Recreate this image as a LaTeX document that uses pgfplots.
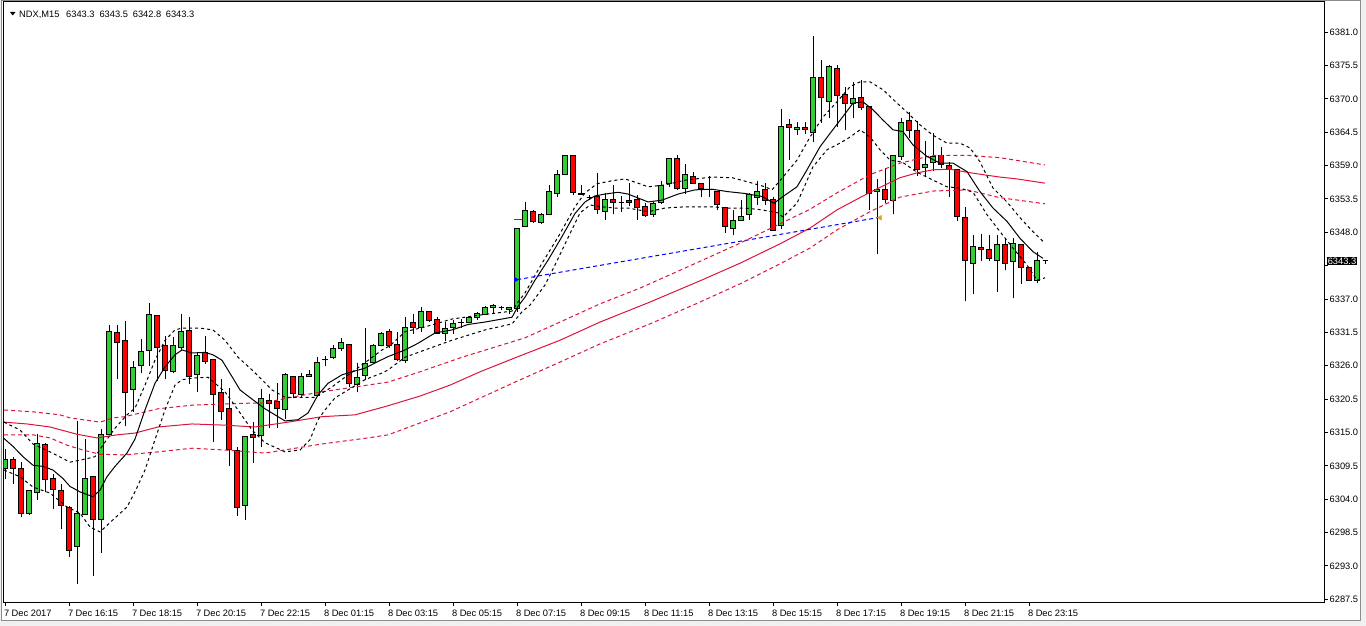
\documentclass[border=0pt]{standalone}
\usepackage{pgfplots}
\pgfplotsset{compat=1.18}
\usepackage{pgfplotstable}
\usepackage{fontspec}
\setmainfont{Liberation Sans}
\definecolor{mtgreen}{RGB}{50,205,50}
\definecolor{mtred}{RGB}{255,0,0}
\definecolor{macrim}{RGB}{220,20,60}
\definecolor{mtgold}{RGB}{218,165,32}
\newcommand{\tf}{\fontsize{9.3}{11}\selectfont}

% bar index, open, high, low, close, up(1)/down(0)
\pgfplotstableread{
i O H L C u
0 6309.0 6312.2 6307.3 6310.6 1
1 6310.6 6311.0 6306.5 6309.1 0
2 6309.1 6310.2 6301.0 6301.7 0
3 6301.7 6305.5 6301.4 6305.5 1
4 6305.1 6314.7 6303.9 6313.2 1
5 6313.0 6313.3 6305.1 6307.3 0
6 6307.4 6308.1 6302.4 6305.6 0
7 6305.5 6306.5 6299.0 6303.0 0
8 6302.7 6302.8 6294.5 6295.6 0
9 6296.2 6316.9 6290.0 6301.7 1
10 6301.5 6314.0 6301.5 6307.4 1
11 6307.8 6307.8 6291.4 6300.6 0
12 6300.7 6315.5 6295.1 6314.7 1
13 6314.6 6332.7 6314.6 6331.7 1
14 6331.4 6332.7 6323.8 6329.9 0
15 6330.1 6333.4 6316.0 6321.6 0
16 6322.1 6326.8 6318.4 6325.7 1
17 6326.1 6330.4 6324.8 6328.3 1
18 6328.5 6336.3 6326.0 6334.4 1
19 6334.2 6334.4 6323.5 6329.0 0
20 6329.4 6330.9 6323.8 6325.2 0
21 6325.1 6330.8 6324.8 6329.4 1
22 6329.0 6334.6 6328.6 6331.7 1
23 6331.8 6334.1 6323.0 6324.3 0
24 6324.6 6328.3 6321.6 6327.7 1
25 6328.2 6330.9 6326.3 6326.7 0
26 6327.1 6327.1 6313.5 6321.3 0
27 6321.6 6323.8 6317.1 6318.5 0
28 6318.9 6322.3 6309.5 6312.2 0
29 6312.1 6312.6 6301.3 6302.7 0
30 6302.9 6314.3 6300.5 6314.3 1
31 6314.6 6316.7 6310.0 6314.2 0
32 6314.5 6322.2 6312.6 6320.6 1
33 6320.2 6321.3 6315.7 6319.8 0
34 6320.1 6323.1 6315.7 6319.0 0
35 6318.8 6324.8 6317.2 6324.6 1
36 6324.2 6324.2 6320.6 6321.5 0
37 6321.3 6324.8 6320.6 6324.3 1
38 6324.3 6325.3 6324.2 6324.6 1
39 6321.1 6327.4 6320.9 6326.6 1
40 6327.0 6327.6 6326.0 6327.1 1
41 6327.4 6329.4 6327.1 6328.9 1
42 6328.8 6330.5 6328.5 6329.9 1
43 6329.5 6329.5 6322.5 6323.1 0
44 6322.9 6326.4 6321.7 6324.1 1
45 6324.4 6332.3 6323.6 6326.4 1
46 6326.6 6329.6 6326.4 6329.4 1
47 6329.4 6331.5 6329.2 6331.3 1
48 6331.7 6332.0 6328.9 6329.4 0
49 6329.5 6331.6 6326.7 6327.1 0
50 6326.8 6334.1 6326.4 6332.3 1
51 6333.2 6334.6 6331.3 6332.3 0
52 6332.3 6335.6 6331.6 6335.0 1
53 6335.0 6335.1 6333.2 6333.5 0
54 6333.7 6334.1 6331.2 6331.3 0
55 6331.3 6333.2 6330.0 6332.2 1
56 6332.3 6333.5 6331.3 6333.0 1
57 6333.1 6333.7 6332.3 6333.2 1
58 6333.2 6334.2 6333.1 6334.0 1
59 6334.0 6334.9 6333.5 6334.6 1
60 6334.5 6335.8 6334.4 6335.6 1
61 6335.6 6336.1 6334.6 6336.0 1
62 6335.6 6335.9 6335.2 6335.6 1
63 6335.2 6335.7 6334.5 6335.6 1
64 6335.5 6348.7 6334.9 6348.7 1
65 6349.0 6353.0 6348.9 6351.6 1
66 6351.5 6351.7 6349.6 6349.7 0
67 6349.6 6351.1 6349.4 6351.0 1
68 6351.0 6355.8 6350.9 6354.8 1
69 6354.4 6358.2 6353.9 6357.6 1
70 6357.6 6360.8 6357.5 6360.6 1
71 6360.6 6360.7 6354.2 6354.6 0
72 6354.4 6355.8 6354.1 6354.2 0
73 6353.8 6354.2 6353.4 6353.8 1
74 6353.9 6357.7 6351.0 6351.7 0
75 6351.5 6354.4 6350.1 6353.4 1
76 6353.4 6355.8 6351.0 6352.9 0
77 6352.9 6354.0 6351.4 6352.9 1
78 6353.3 6356.1 6352.3 6352.9 0
79 6353.4 6354.2 6350.1 6352.1 0
80 6352.2 6352.9 6350.5 6350.7 0
81 6351.0 6353.0 6350.5 6352.8 1
82 6352.9 6356.5 6352.7 6355.7 1
83 6356.0 6360.2 6355.5 6360.1 1
84 6360.1 6360.7 6355.0 6355.3 0
85 6355.3 6359.2 6354.3 6357.6 1
86 6357.2 6358.0 6356.0 6356.1 0
87 6356.1 6356.1 6353.8 6355.3 0
88 6355.1 6357.2 6353.9 6355.1 1
89 6354.8 6354.8 6351.6 6352.5 0
90 6352.1 6352.1 6347.9 6349.0 0
91 6348.6 6351.6 6347.5 6350.0 1
92 6349.9 6353.3 6349.9 6350.6 1
93 6351.0 6354.4 6350.0 6354.3 1
94 6353.8 6356.5 6352.5 6354.8 1
95 6355.1 6356.2 6352.5 6353.3 0
96 6353.4 6353.9 6348.2 6348.3 0
97 6349.2 6368.3 6348.6 6365.5 1
98 6365.8 6366.6 6360.0 6365.2 0
99 6365.0 6366.2 6364.0 6365.3 1
100 6365.3 6366.2 6364.2 6365.0 0
101 6364.4 6380.4 6362.9 6373.6 1
102 6373.6 6376.4 6366.1 6370.2 0
103 6369.6 6375.6 6366.8 6375.4 1
104 6375.0 6375.6 6365.4 6370.6 0
105 6370.8 6372.0 6364.8 6369.3 0
106 6369.3 6372.8 6366.9 6370.1 1
107 6370.3 6373.1 6368.2 6368.6 0
108 6368.8 6368.8 6351.6 6354.4 0
109 6354.8 6356.8 6344.5 6355.1 1
110 6355.1 6358.6 6352.8 6353.4 0
111 6353.3 6360.7 6351.0 6360.6 1
112 6360.5 6366.8 6359.9 6366.1 1
113 6366.4 6367.9 6363.5 6364.8 0
114 6364.8 6366.4 6357.2 6358.3 0
115 6358.7 6363.1 6357.1 6359.2 1
116 6359.5 6364.4 6358.1 6360.5 1
117 6360.6 6362.1 6358.6 6359.2 0
118 6359.0 6359.6 6353.9 6358.3 0
119 6358.3 6358.3 6349.9 6350.6 0
120 6350.5 6352.2 6336.6 6343.3 0
121 6342.9 6347.6 6337.9 6345.6 1
122 6345.5 6347.7 6343.3 6345.2 0
123 6345.2 6347.6 6343.2 6343.7 0
124 6343.4 6347.6 6338.1 6346.0 1
125 6346.0 6347.0 6341.7 6342.9 0
126 6343.2 6347.0 6337.1 6346.2 1
127 6346.0 6346.0 6339.4 6342.2 0
128 6342.2 6342.2 6339.9 6340.0 0
129 6340.0 6344.8 6339.6 6343.3 1
130 6343.3 6343.5 6342.8 6343.3 1
}\ohlc

\begin{document}
\begin{tikzpicture}[x=1pt,y=1pt]
\useasboundingbox (0,0) rectangle (1366,626);
\fill[black!6] (0,0) rectangle (1366,626);
\fill[white] (1,5) rectangle (1360,625);
\draw[black!45, line width=1pt] (1,5) rectangle (1360,625);

\begin{axis}[
  at={(3.5pt,23pt)}, anchor=south west,
  scale only axis, width=1321.5pt, height=601pt,
  xmin=-0.225, xmax=164.96, ymin=6286.88, ymax=6385.97,
  axis line style={black, line width=1pt},
  tick style={black, line width=1pt},
  tick align=outside, major tick length=3pt,
  xtick pos=bottom, ytick pos=right, yticklabel pos=right,
  xtick={0,8,...,128},
  xticklabels={7 Dec 2017, 7 Dec 16:15, 7 Dec 18:15, 7 Dec 20:15, 7 Dec 22:15, 8 Dec 01:15, 8 Dec 03:15, 8 Dec 05:15, 8 Dec 07:15, 8 Dec 09:15, 8 Dec 11:15, 8 Dec 13:15, 8 Dec 15:15, 8 Dec 17:15, 8 Dec 19:15, 8 Dec 21:15, 8 Dec 23:15},
  ytick={6287.5,6293,6298.5,6304,6309.5,6315,6320.5,6326,6331.5,6337,6348,6353.5,6359,6364.5,6370,6375.5,6381},
  extra y ticks={6342.5}, extra y tick labels={},
  extra y tick style={tick style={black, line width=1pt}},
  scaled y ticks=false,
  xticklabel style={anchor=north west, inner sep=0pt, font=\tf, xshift=-1.5pt, yshift=-4pt},
  yticklabel style={anchor=west, inner sep=0pt, font=\tf, xshift=1.5pt, /pgf/number format/.cd, fixed, fixed zerofill, precision=1, 1000 sep={}, assume math mode=true},
]

% candles
\pgfplotstablegetrowsof{\ohlc}
\pgfmathtruncatemacro{\lastrow}{\pgfplotsretval-1}
\foreach \r in {0,...,\lastrow}{%
  \pgfplotstablegetelem{\r}{i}\of\ohlc \let\vI\pgfplotsretval
  \pgfplotstablegetelem{\r}{O}\of\ohlc \let\vO\pgfplotsretval
  \pgfplotstablegetelem{\r}{H}\of\ohlc \let\vH\pgfplotsretval
  \pgfplotstablegetelem{\r}{L}\of\ohlc \let\vL\pgfplotsretval
  \pgfplotstablegetelem{\r}{C}\of\ohlc \let\vC\pgfplotsretval
  \pgfplotstablegetelem{\r}{u}\of\ohlc \let\vU\pgfplotsretval
  \pgfmathsetmacro{\xa}{\vI-0.3125}%
  \pgfmathsetmacro{\xb}{\vI+0.3125}%
  \ifnum\vU=1\relax \def\bodycol{mtgreen}\else\def\bodycol{mtred}\fi
  \edef\doit{%
    \noexpand\addplot[black, line width=1pt, forget plot] coordinates {(\vI,\vL) (\vI,\vH)};
    \noexpand\addplot[draw=black, fill=\bodycol, line width=1pt, forget plot] coordinates {(\xa,\vO) (\xb,\vO) (\xb,\vC) (\xa,\vC)} -- cycle;
  }\doit
}

% red MA (long) with dashed channel
\addplot[macrim, line width=1pt] coordinates {(-0.16,6316.7) (2.71,6316.4) (5.59,6315.9) (8.96,6314.7) (11.46,6314.1) (13.96,6314.6) (16.21,6314.9) (19.09,6315.9) (23.34,6316.4) (27.46,6316.2) (31.21,6315.9) (35.34,6316.7) (39.59,6317.6) (43.71,6317.9) (47.84,6319.4) (51.84,6321.0) (55.59,6322.8) (59.34,6325.0) (63.71,6327.3) (69.34,6330.2) (74.34,6333.2) (80.59,6336.5) (86.84,6340.0) (91.84,6342.9) (96.84,6346.1) (100.59,6348.7) (103.96,6351.7) (108.09,6354.6) (111.84,6357.0) (113.96,6357.8) (115.96,6358.3) (118.09,6358.4) (120.21,6357.9) (122.21,6357.5) (124.34,6357.1) (126.46,6356.8) (129.96,6356.1)};
\addplot[macrim, line width=1pt, dash pattern=on 4pt off 3pt] coordinates {(-0.16,6318.7) (3.46,6318.4) (6.84,6317.9) (8.09,6317.4) (11.84,6316.7) (13.46,6317.4) (14.96,6317.6) (19.09,6318.9) (23.34,6319.5) (27.46,6319.7) (32.46,6319.9) (35.34,6320.7) (39.59,6321.7) (43.71,6322.5) (47.84,6323.3) (51.84,6325.0) (57.09,6327.4) (64.96,6330.6) (69.34,6333.2) (74.34,6336.2) (79.34,6338.8) (84.96,6342.1) (91.84,6346.2) (96.84,6349.4) (100.59,6351.8) (103.96,6354.5) (108.09,6357.5) (111.84,6359.4) (115.96,6360.7) (120.21,6360.7) (124.34,6360.3) (129.96,6359.1)};
\addplot[macrim, line width=1pt, dash pattern=on 4pt off 3pt] coordinates {(-0.16,6314.6) (3.46,6314.6) (5.59,6314.1) (7.71,6312.9) (9.71,6312.1) (11.84,6311.4) (14.96,6311.3) (19.09,6311.8) (23.34,6312.4) (27.46,6312.1) (32.46,6311.6) (39.59,6313.1) (45.34,6314.1) (47.84,6314.6) (55.59,6318.4) (63.71,6323.3) (69.34,6326.6) (74.34,6329.6) (80.59,6332.9) (86.84,6336.5) (91.84,6339.5) (96.84,6342.8) (100.59,6345.4) (103.96,6348.4) (108.09,6351.4) (111.84,6353.8) (115.96,6354.8) (120.21,6355.0) (124.34,6353.7) (129.96,6352.7)};

% black MA (short) with dashed channel
\addplot[black, line width=1pt] coordinates {(-0.16,6314.0) (0.96,6312.7) (2.21,6311.0) (3.46,6309.6) (4.71,6309.4) (5.96,6308.8) (7.21,6307.4) (8.09,6306.1) (9.34,6305.2) (10.96,6304.4) (11.84,6305.5) (12.71,6307.7) (13.71,6309.4) (15.21,6311.6) (16.21,6313.9) (17.46,6318.7) (18.71,6323.1) (19.96,6325.8) (21.21,6327.8) (22.09,6328.6) (23.34,6328.1) (24.96,6328.2) (25.96,6327.8) (27.09,6326.9) (28.34,6324.2) (29.34,6322.0) (30.84,6320.5) (32.46,6318.9) (34.96,6316.9) (36.59,6317.1) (37.84,6318.2) (39.09,6321.2) (40.34,6323.1) (42.09,6324.5) (43.34,6325.0) (44.96,6325.6) (46.59,6326.7) (47.84,6327.5) (49.96,6328.6) (51.59,6329.7) (53.71,6331.4) (55.84,6331.9) (57.84,6332.8) (59.96,6333.2) (62.09,6333.7) (63.34,6334.0) (64.09,6335.8) (64.96,6337.3) (66.21,6340.1) (67.84,6343.4) (69.59,6347.3) (71.21,6351.1) (72.46,6353.0) (73.71,6354.0) (74.96,6354.3) (76.59,6354.6) (77.84,6354.3) (79.59,6353.4) (80.34,6353.0) (82.09,6353.3) (84.09,6354.3) (86.21,6355.0) (88.34,6355.1) (90.34,6354.7) (92.46,6354.4) (94.59,6353.9) (96.09,6352.8) (97.21,6353.9) (98.96,6355.5) (100.21,6358.3) (101.84,6362.1) (103.09,6364.3) (104.71,6367.1) (105.96,6369.3) (107.21,6369.5) (108.46,6368.2) (109.71,6366.5) (110.96,6364.9) (112.21,6364.6) (113.46,6362.4) (115.21,6360.5) (116.84,6359.4) (118.46,6359.4) (120.21,6358.0) (121.84,6354.7) (123.46,6352.0) (125.21,6349.8) (126.84,6347.0) (128.46,6344.8) (129.71,6343.7)};
\addplot[black, line width=1pt, dash pattern=on 3pt off 3pt] coordinates {(-0.16,6316.7) (1.84,6315.4) (3.46,6313.1) (5.59,6311.8) (8.09,6310.1) (9.96,6310.6) (11.21,6311.0) (12.46,6313.4) (13.71,6315.7) (15.21,6317.9) (16.21,6319.0) (17.46,6322.8) (18.71,6326.9) (19.96,6330.2) (21.21,6331.9) (22.09,6332.2) (24.34,6332.2) (25.96,6331.9) (27.46,6330.2) (29.09,6327.4) (30.84,6325.3) (32.46,6323.2) (33.34,6322.0) (34.96,6320.8) (38.71,6320.8) (40.84,6322.5) (42.46,6324.1) (44.96,6326.5) (47.09,6328.6) (48.09,6329.3) (49.96,6331.6) (52.46,6332.4) (55.84,6333.7) (59.59,6334.4) (63.34,6335.0) (64.09,6336.5) (64.96,6338.0) (67.09,6342.9) (69.09,6347.2) (71.21,6352.2) (72.46,6354.5) (73.96,6356.0) (75.84,6356.5) (77.46,6356.8) (79.09,6356.1) (80.34,6355.5) (82.46,6355.8) (84.96,6356.6) (88.34,6357.1) (90.84,6357.0) (92.84,6356.3) (94.96,6355.5) (95.84,6355.0) (97.21,6357.1) (98.96,6359.9) (100.59,6363.7) (102.21,6367.0) (103.96,6369.5) (105.59,6372.0) (106.84,6372.8) (108.09,6372.8) (109.71,6371.5) (111.46,6369.3) (112.71,6367.8) (114.34,6365.7) (115.96,6364.0) (117.71,6362.7) (119.34,6362.7) (120.59,6361.9) (121.84,6359.6) (123.46,6355.3) (125.21,6353.0) (126.84,6350.4) (128.46,6348.1) (129.96,6346.2)};
\addplot[black, line width=1pt, dash pattern=on 3pt off 3pt] coordinates {(-0.16,6308.8) (1.84,6307.7) (3.46,6306.0) (5.59,6305.0) (7.71,6302.7) (9.34,6301.7) (10.59,6299.4) (11.84,6298.6) (13.46,6300.6) (15.21,6302.7) (16.21,6305.2) (17.46,6308.8) (18.71,6313.8) (19.96,6318.7) (21.21,6322.8) (22.09,6323.7) (23.71,6324.0) (25.34,6324.1) (27.46,6321.7) (29.09,6318.7) (30.84,6315.4) (32.46,6313.3) (34.96,6311.8) (36.84,6312.1) (38.09,6313.8) (39.09,6317.1) (39.96,6318.7) (41.21,6320.7) (42.84,6322.0) (44.96,6323.7) (47.09,6324.8) (47.84,6325.3) (49.96,6327.4) (52.46,6328.6) (55.84,6330.2) (59.96,6331.9) (63.34,6332.9) (64.59,6334.9) (65.59,6336.0) (67.46,6339.3) (68.71,6342.6) (70.34,6347.1) (71.84,6351.2) (73.09,6352.5) (74.59,6352.2) (76.21,6352.0) (77.84,6352.0) (80.34,6351.4) (82.46,6352.0) (84.96,6352.2) (88.34,6352.2) (90.34,6352.0) (92.46,6352.0) (94.59,6351.7) (96.59,6351.2) (97.21,6350.5) (98.96,6352.8) (99.71,6355.0) (100.96,6358.8) (102.71,6361.6) (104.34,6362.7) (105.59,6363.7) (106.84,6364.9) (108.09,6363.7) (109.34,6361.6) (110.59,6359.9) (112.09,6359.6) (113.96,6357.9) (115.96,6356.6) (117.71,6355.5) (119.34,6355.3) (120.96,6354.6) (122.71,6350.9) (124.34,6348.1) (125.96,6345.4) (127.71,6342.6) (128.96,6340.1) (129.96,6340.5)};

% trade line and markers
\addplot[blue, line width=1pt, dash pattern=on 4pt off 3pt] coordinates {(64,6340.2) (109,6350.4)};
\addplot[only marks, mark=triangle*, mark size=2.8pt, mark options={fill=blue, draw=blue, rotate=-90}] coordinates {(63.8,6340.2)};
\addplot[mtred, line width=1.5pt] coordinates {(63.6,6350.1) (64.55,6350.1)};
\addplot[only marks, mark=triangle*, mark size=2.8pt, mark options={fill=mtgold, draw=mtgold, rotate=90}] coordinates {(109.35,6350.4)};
\end{axis}

% current price box
\node[fill=black, text=white, font=\tf, inner xsep=0.6pt, inner ysep=0.8pt, anchor=west] at (1327,365) {6343.3};

% header
\fill[black] (10,614) -- (15.5,614) -- (12.75,610.5) -- cycle;
\node[anchor=base west, inner sep=0pt, font=\tf] at (19,608.7) {NDX,M15};
\node[anchor=base west, inner sep=0pt, font=\tf] at (66,608.7) {6343.3};
\node[anchor=base west, inner sep=0pt, font=\tf] at (99.3,608.7) {6343.5};
\node[anchor=base west, inner sep=0pt, font=\tf] at (132.7,608.7) {6342.8};
\node[anchor=base west, inner sep=0pt, font=\tf] at (165.7,608.7) {6343.3};
\end{tikzpicture}
\end{document}
